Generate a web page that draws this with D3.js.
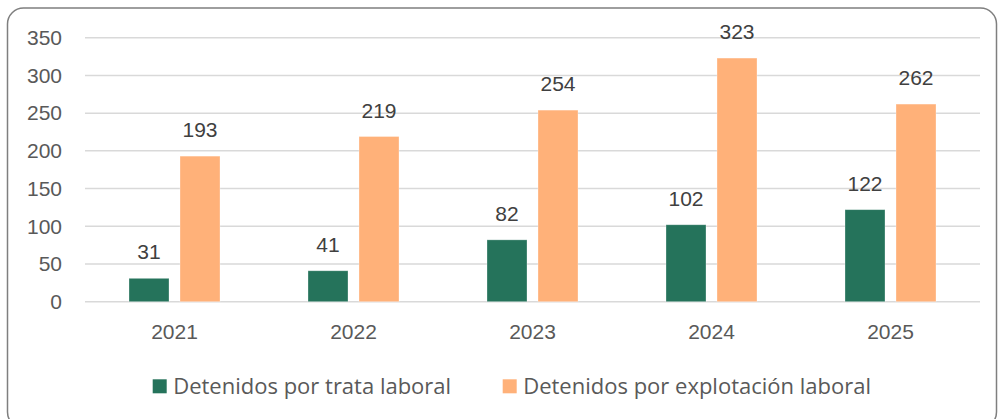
<!DOCTYPE html>
<html>
<head>
<meta charset="utf-8">
<script src="https://cdn.jsdelivr.net/npm/d3@7"></script>
<style>
  body { margin: 0; background: #fff; }
  svg { display: block; }
</style>
</head>
<body>
<div id="chart"></div>
<script>
const years = ["2021", "2022", "2023", "2024", "2025"];
const trata = [31, 41, 82, 102, 122];
const explotacion = [193, 219, 254, 323, 262];
const seriesNames = ["Detenidos por trata laboral", "Detenidos por explotación laboral"];
const seriesColors = ["#25735b", "#ffb179"];
const yTicks = [0, 50, 100, 150, 200, 250, 300, 350];

const width = 1000, height = 419;
const margin = { top: 37.7, right: 20, bottom: 117.3, left: 85 };

const svg = d3.select("#chart")
    .append("svg")
    .attr("width", width)
    .attr("height", height);

// chart frame
svg.append("rect")
    .attr("x", 7.5)
    .attr("y", 8)
    .attr("width", 989)
    .attr("height", 420)
    .attr("rx", 16)
    .attr("fill", "#fff")
    .attr("stroke", "#7f7f7f")
    .attr("stroke-width", 1.5);

const x = d3.scaleBand()
    .domain(years)
    .range([margin.left, width - margin.right]);

const y = d3.scaleLinear()
    .domain([0, 350])
    .range([height - margin.bottom, margin.top]);

// gridlines
svg.append("g")
    .selectAll("line")
    .data(yTicks)
    .enter()
    .append("line")
    .attr("x1", margin.left)
    .attr("x2", width - margin.right)
    .attr("y1", d => y(d))
    .attr("y2", d => y(d))
    .attr("stroke", "#d9d9d9")
    .attr("stroke-width", 1.5);

// y axis labels
const yAxis = svg.append("g")
    .attr("transform", "translate(" + (margin.left - 23) + ",0)")
    .call(d3.axisLeft(y).tickValues(yTicks).tickSize(0).tickPadding(0));
yAxis.select(".domain").remove();
yAxis.selectAll("text")
    .attr("font-family", "Liberation Sans, Arial, sans-serif")
    .attr("font-size", 21)
    .attr("fill", "#595959");

// x axis labels
const xAxis = svg.append("g")
    .attr("transform", "translate(0," + (height - margin.bottom) + ")")
    .call(d3.axisBottom(x).tickSize(0).tickPadding(22));
xAxis.select(".domain").remove();
xAxis.selectAll("text")
    .attr("font-family", "Liberation Sans, Arial, sans-serif")
    .attr("font-size", 21)
    .attr("fill", "#595959");

const barW = 40, gap = 11;
const series = [trata, explotacion];

series.forEach(function (vals, i) {
    const offset = i === 0 ? -gap / 2 - barW : gap / 2;
    const g = svg.append("g");
    g.selectAll("rect")
        .data(vals)
        .enter()
        .append("rect")
        .attr("x", (d, j) => x(years[j]) + x.bandwidth() / 2 + offset)
        .attr("y", d => y(d))
        .attr("width", barW)
        .attr("height", d => y(0) - y(d))
        .attr("fill", seriesColors[i])
        .attr("stroke", "#fff")
        .attr("stroke-opacity", 0.4)
        .attr("stroke-width", 0.75);

    g.selectAll("text")
        .data(vals)
        .enter()
        .append("text")
        .attr("x", (d, j) => x(years[j]) + x.bandwidth() / 2 + offset + barW / 2)
        .attr("y", d => y(d) - 19)
        .attr("text-anchor", "middle")
        .attr("font-family", "Liberation Sans, Arial, sans-serif")
        .attr("font-size", 21)
        .attr("fill", "#404040")
        .text(d => d);
});

// legend
const legendX = [152.7, 502.7];
const legend = svg.append("g");
seriesNames.forEach(function (name, i) {
    legend.append("rect")
        .attr("x", legendX[i])
        .attr("y", 379.3)
        .attr("width", 14)
        .attr("height", 14)
        .attr("fill", seriesColors[i]);
    legend.append("text")
        .attr("x", legendX[i] + 20.5)
        .attr("y", 386)
        .attr("dy", "0.35em")
        .attr("font-family", "Open Sans, sans-serif")
        .attr("font-size", 22)
        .attr("fill", "#595959")
        .text(name);
});
</script>
</body>
</html>
